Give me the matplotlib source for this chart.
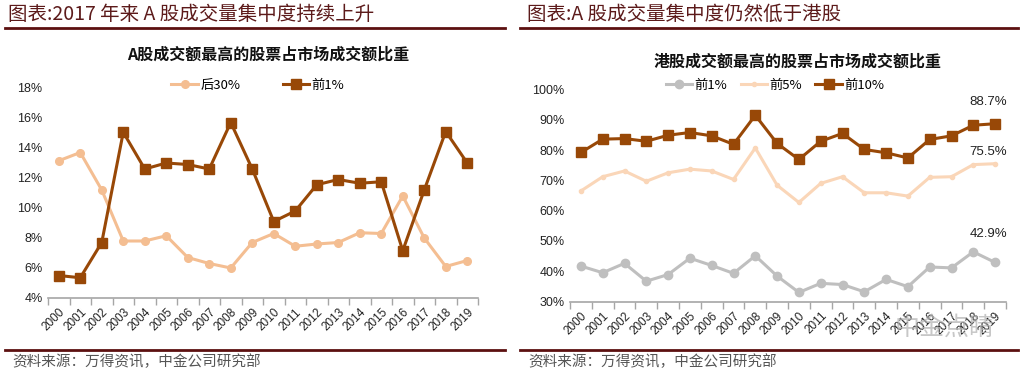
import numpy as np
import matplotlib.pyplot as plt
from matplotlib.lines import Line2D

plt.rcParams['font.family'] = ['Liberation Sans', 'Noto Sans CJK SC', 'DejaVu Sans']

years = [str(y) for y in range(2000, 2020)]

# left chart: A-share
a_bottom30 = [13.15, 13.7, 11.2, 7.8, 7.8, 8.15, 6.7, 6.3, 6.0, 7.7,
              8.3, 7.45, 7.6, 7.7, 8.35, 8.3, 10.8, 8.0, 6.1, 6.5]
a_top1 = [5.5, 5.35, 7.7, 15.05, 12.6, 13.0, 12.9, 12.6, 15.7, 12.6,
          9.1, 9.8, 11.55, 11.9, 11.65, 11.75, 7.15, 11.2, 15.1, 13.0]

# right chart: HK
hk_top1 = [41.7, 39.5, 42.6, 36.7, 38.9, 44.3, 41.9, 39.3, 45.1, 38.4,
           33.0, 36.0, 35.6, 33.2, 37.3, 34.9, 41.4, 41.1, 46.4, 42.9]
hk_top5 = [66.5, 71.2, 73.1, 69.7, 72.5, 73.7, 73.1, 70.3, 80.7, 68.4,
           62.7, 69.0, 71.2, 65.9, 65.9, 64.8, 71.0, 71.2, 75.2, 75.5]
hk_top10 = [79.2, 83.6, 83.8, 82.9, 84.9, 85.8, 84.7, 81.9, 91.5, 82.2,
            76.9, 82.9, 85.5, 80.2, 79.1, 77.4, 83.5, 84.7, 88.2, 88.7]

dark = '#984807'
peach = '#F4BE92'
peach2 = '#FAD6B8'
gray = '#BFBFBF'
hdr = '#5C1A1A'
cjk = ['Noto Sans CJK SC', 'DejaVu Sans']

fig = plt.figure(figsize=(10.24, 3.77), dpi=100)
W, H = 1024, 377

def fx(px):
    return px / W

def fy(py):
    return 1 - py / H

x = np.arange(len(years))

def style_axes(ax):
    for s in ['top', 'right', 'left']:
        ax.spines[s].set_visible(False)
    ax.spines['bottom'].set_color('#A6A6A6')
    ax.spines['bottom'].set_linewidth(1.2)
    ax.set_xlim(-0.5, len(years) - 0.5)
    ax.set_xticks(x)
    ax.set_xticklabels(years, rotation=45, ha='right', va='top',
                       rotation_mode='anchor', fontsize=8.5, color='#222222')
    ax.tick_params(axis='x', which='major', length=0, pad=6)
    ax.set_xticks(np.arange(-0.5, len(years)), minor=True)
    ax.tick_params(axis='x', which='minor', length=5, color='#A6A6A6', width=1)
    ax.tick_params(axis='y', length=0, labelsize=9, labelcolor='#222222', pad=4)

# ---- left
ax1 = fig.add_axes([fx(48), 79 / H, 430 / W, 210 / H])
style_axes(ax1)
ax1.plot(x, a_bottom30, color=peach, lw=2.2, marker='o', ms=5.5, label='后30%')
ax1.plot(x, a_top1, color=dark, lw=2.2, marker='s', ms=7, label='前1%')
ax1.set_ylim(4, 18)
ax1.set_yticks(range(4, 19, 2))
ax1.set_yticklabels([f'{v}%' for v in range(4, 19, 2)])
ax1.legend(loc='center', bbox_to_anchor=(fx(258), fy(85)), bbox_transform=fig.transFigure,
           ncol=2, frameon=False, handlelength=2.0, columnspacing=3.2,
           handletextpad=0.2, prop={'family': cjk, 'size': 9.5})

# ---- right
ax2 = fig.add_axes([fx(570), 75.5 / H, 436 / W, 212 / H])
style_axes(ax2)
ax2.plot(x, hk_top1, color=gray, lw=2.2, marker='o', ms=6, label='前1%')
ax2.plot(x, hk_top5, color=peach2, lw=2.2, marker='o', ms=3, label='前5%')
ax2.plot(x, hk_top10, color=dark, lw=2.2, marker='s', ms=7, label='前10%')
ax2.set_ylim(30, 100)
ax2.set_yticks(range(30, 101, 10))
ax2.set_yticklabels([f'{v}%' for v in range(30, 101, 10)])
for series, dy in ((hk_top10, 22), (hk_top5, 12), (hk_top1, 28)):
    ax2.annotate(f'{series[-1]:.1f}%', (x[-1], series[-1]), xytext=(-7, dy),
                 textcoords='offset pixels', ha='center', va='center',
                 fontsize=9.5, color='#222222')
ax2.legend(loc='center', bbox_to_anchor=(fx(775), fy(85)), bbox_transform=fig.transFigure,
           ncol=3, frameon=False, handlelength=2.0, columnspacing=1.0,
           handletextpad=0.2, prop={'family': cjk, 'size': 9.5})

# ---- headers, titles, footers
fig.text(fx(8), fy(14), '图表:2017 年来 A 股成交量集中度持续上升', fontsize=14,
         color=hdr, va='center', ha='left', family=cjk)
fig.text(fx(527), fy(14), '图表:A 股成交量集中度仍然低于港股', fontsize=14,
         color=hdr, va='center', ha='left', family=cjk)
for x0, x1 in [(5, 505), (520, 1018)]:
    fig.add_artist(Line2D([fx(x0), fx(x1)], [fy(28), fy(28)], color='#5C1010', lw=2))
    fig.add_artist(Line2D([fx(x0), fx(x1)], [fy(350), fy(350)], color='#5C1010', lw=2))

fig.text(fx(268), fy(55), 'A股成交额最高的股票占市场成交额比重', fontsize=11.5,
         fontweight='bold', ha='center', va='center', family=cjk, color='#111111')
fig.text(fx(798), fy(62), '港股成交额最高的股票占市场成交额比重', fontsize=11.5,
         fontweight='bold', ha='center', va='center', family=cjk, color='#111111')

fig.text(fx(12), fy(362), '资料来源：万得资讯，中金公司研究部', fontsize=10.5,
         color='#555555', va='center', ha='left', family=cjk)
fig.text(fx(528), fy(362), '资料来源：万得资讯，中金公司研究部', fontsize=10.5,
         color='#555555', va='center', ha='left', family=cjk)

# watermark
fig.text(fx(945), fy(328), '中金点睛', fontsize=18, color='#B0B0B0', alpha=0.7,
         ha='center', va='center', family=cjk)

fig.savefig('out.png', dpi=100, facecolor='white')
